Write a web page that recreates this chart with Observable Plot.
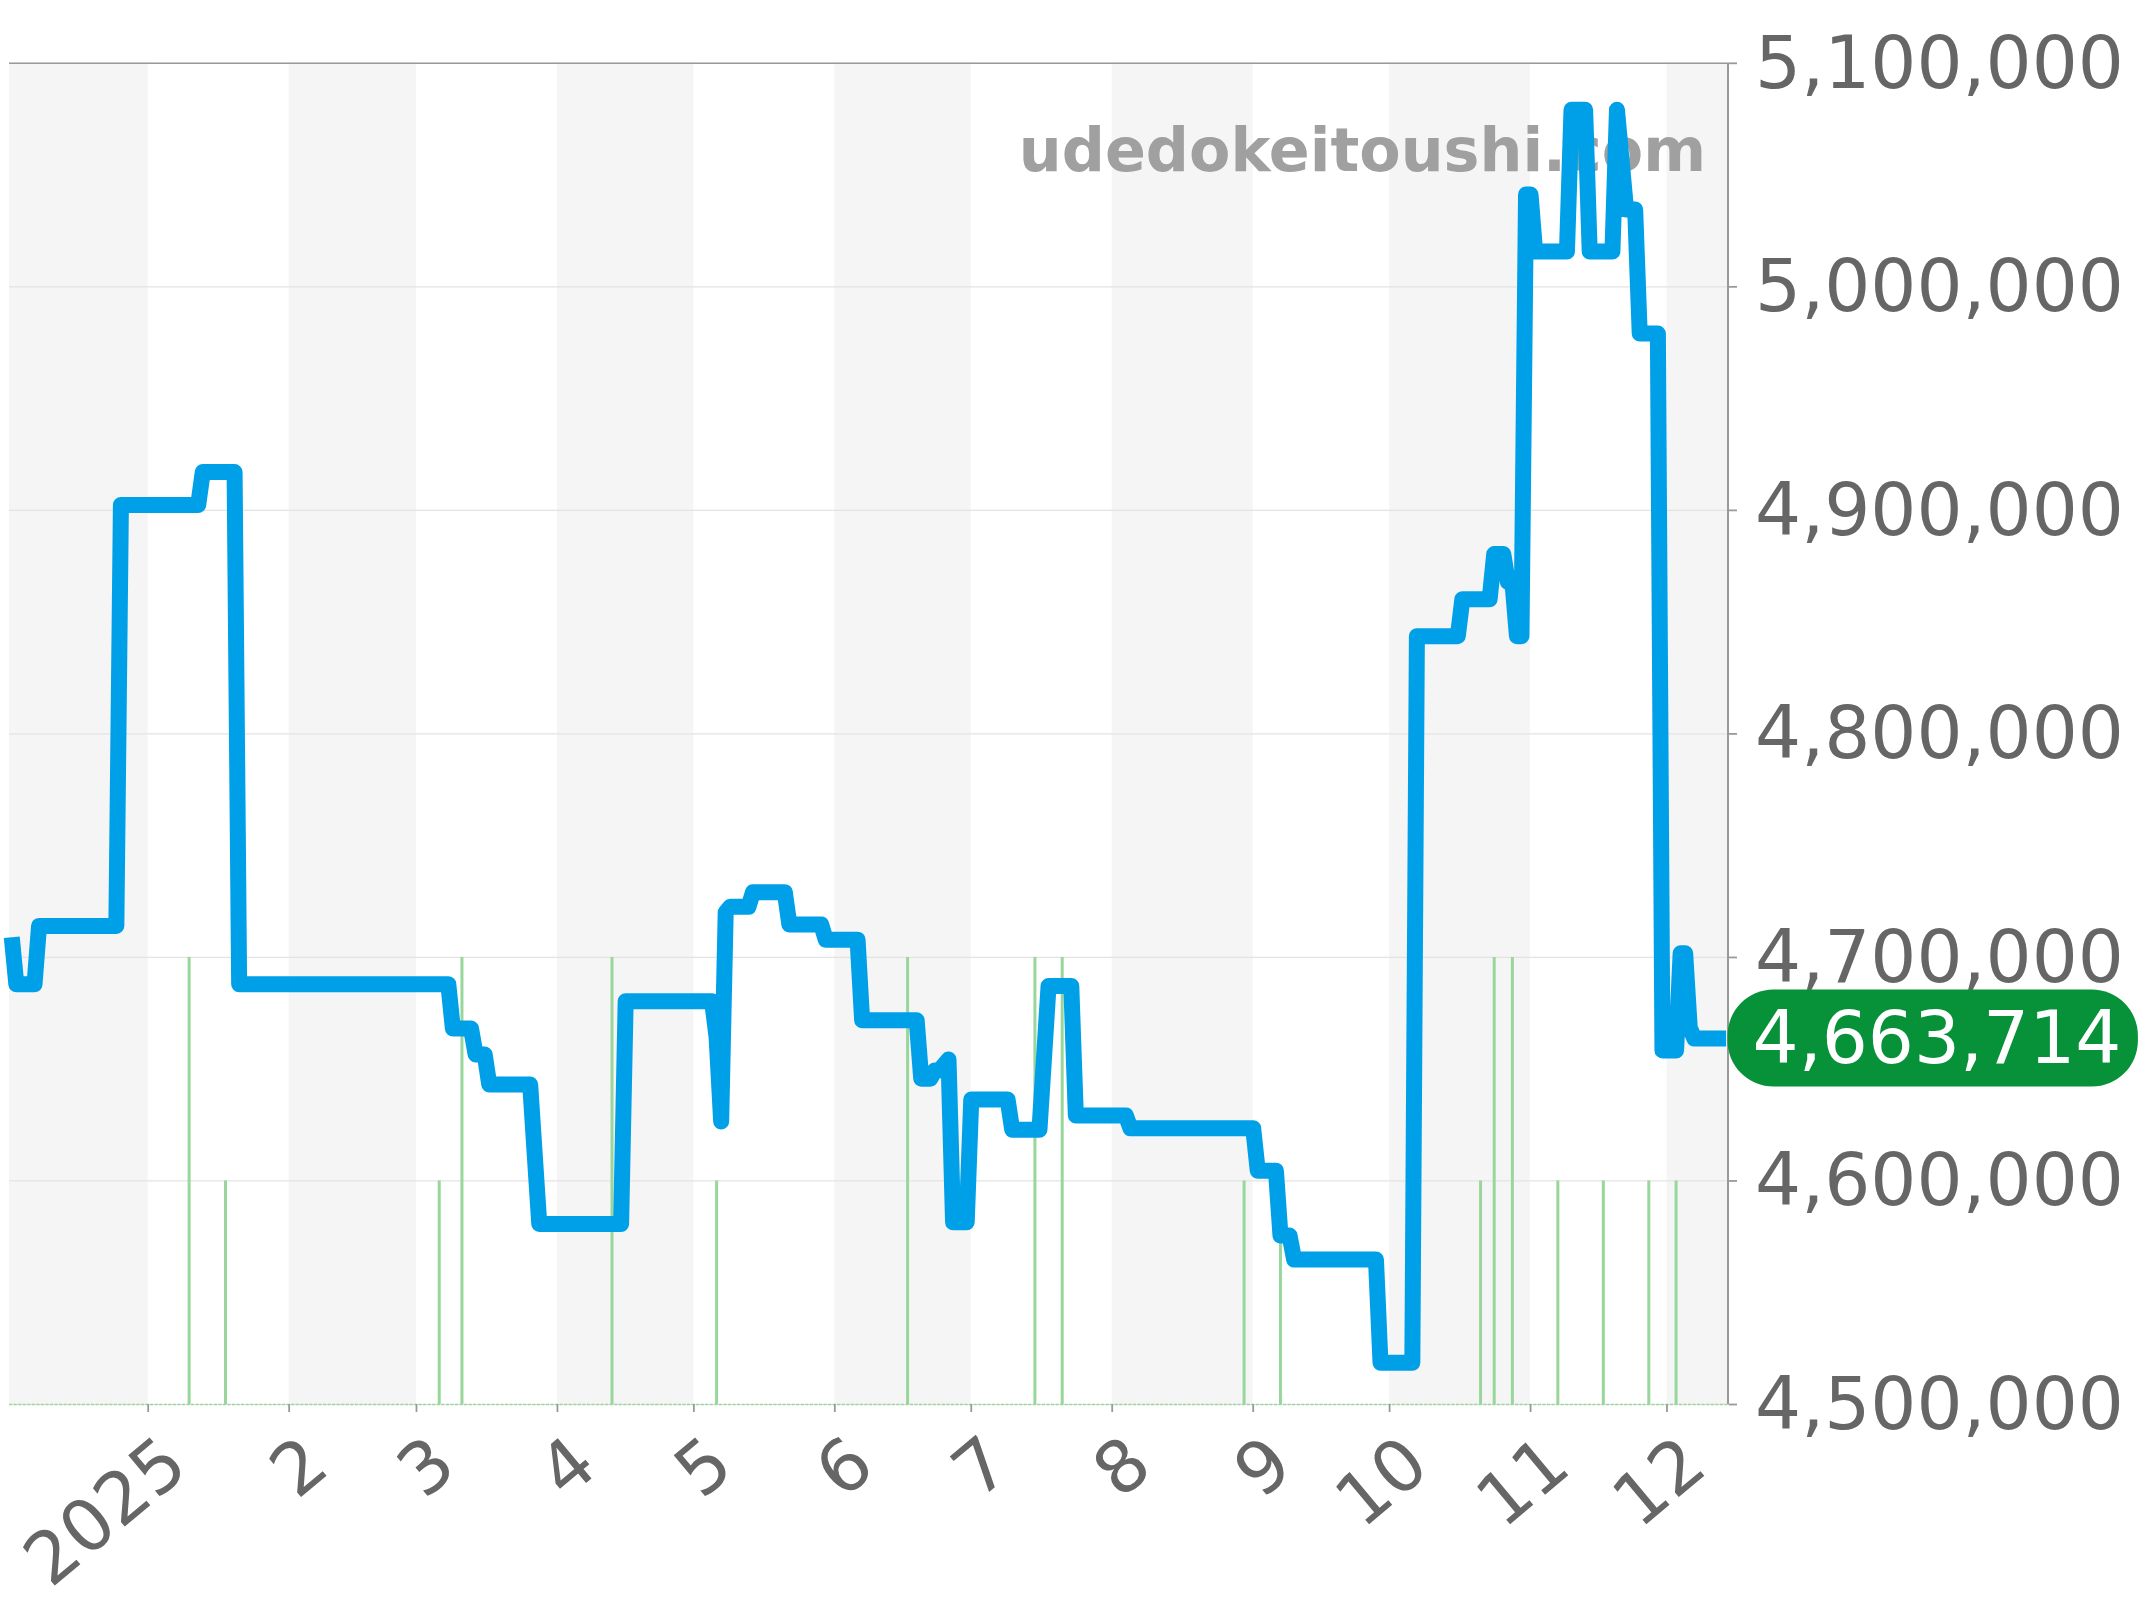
<!DOCTYPE html>
<html><head><meta charset="utf-8">
<script src="https://cdn.jsdelivr.net/npm/d3@7"></script>
<script src="https://cdn.jsdelivr.net/npm/@observablehq/plot@0.6"></script>
<style>html,body{margin:0;padding:0;background:#fff}svg{display:block}</style>
</head><body><div id="chart"></div>
<script>
const priceDates = ["2024-12-02","2024-12-03","2024-12-07","2024-12-08","2024-12-25","2024-12-26","2025-01-12","2025-01-13","2025-01-20","2025-01-21","2025-03-08","2025-03-09","2025-03-13","2025-03-14","2025-03-16","2025-03-17","2025-03-26","2025-03-28","2025-04-15","2025-04-16","2025-05-05","2025-05-06","2025-05-07","2025-05-08","2025-05-09","2025-05-13","2025-05-14","2025-05-21","2025-05-22","2025-05-29","2025-05-30","2025-06-06","2025-06-07","2025-06-19","2025-06-20","2025-06-22","2025-06-23","2025-06-24","2025-06-26","2025-06-27","2025-06-30","2025-07-01","2025-07-09","2025-07-10","2025-07-16","2025-07-18","2025-07-23","2025-07-24","2025-08-04","2025-08-05","2025-09-01","2025-09-02","2025-09-06","2025-09-07","2025-09-09","2025-09-10","2025-09-28","2025-09-29","2025-10-06","2025-10-07","2025-10-16","2025-10-17","2025-10-23","2025-10-24","2025-10-26","2025-10-27","2025-10-28","2025-10-29","2025-10-30","2025-10-31","2025-11-01","2025-11-02","2025-11-09","2025-11-10","2025-11-13","2025-11-14","2025-11-19","2025-11-20","2025-11-22","2025-11-24","2025-11-25","2025-11-29","2025-11-30","2025-12-03","2025-12-04","2025-12-05","2025-12-06","2025-12-07","2025-12-14"];
const priceValues = [4709000,4688000,4688000,4714100,4714100,4902450,4902450,4917130,4917130,4688000,4688000,4668200,4668200,4656600,4656600,4643150,4643150,4580750,4580750,4680450,4680450,4664180,4626620,4720200,4722650,4722650,4729200,4729200,4714700,4714700,4707960,4707960,4671880,4671880,4645760,4645760,4649430,4649430,4654330,4581550,4581550,4636410,4636410,4622950,4622950,4687170,4687170,4629260,4629260,4623560,4623560,4604600,4604600,4575560,4575560,4564850,4564850,4518670,4518670,4843740,4843740,4860250,4860250,4880440,4880440,4867960,4867960,4843740,4843740,5041290,5041290,5015780,5015780,5079200,5079200,5015780,5015780,5079200,5034560,5034560,4979090,4979090,4658420,4658420,4701850,4701850,4668650,4663714,4663714];
const tallDates = ["2025-01-10","2025-03-11","2025-04-13","2025-06-17","2025-07-15","2025-07-21","2025-10-24","2025-10-28"];
const shortDates = ["2025-01-18","2025-03-06","2025-05-06","2025-08-30","2025-09-07","2025-10-21","2025-11-07","2025-11-17","2025-11-27","2025-12-03"];
const tallTop = 4700000, shortTop = 4600000, floorValue = 4500000, ceilValue = 5100000;
const monthStarts = ["2025-01-01","2025-02-01","2025-03-01","2025-04-01","2025-05-01","2025-06-01","2025-07-01","2025-08-01","2025-09-01","2025-10-01","2025-11-01","2025-12-01"];
const monthLabels = ["2025","2","3","4","5","6","7","8","9","10","11","12"];
const bandStarts = ["2024-12-01T12:00","2025-02-01","2025-04-01","2025-06-01","2025-08-01","2025-10-01","2025-12-01"];
const bandEnds = ["2025-01-01","2025-03-01","2025-05-01","2025-07-01","2025-09-01","2025-11-01","2025-12-14T10:00"];
const yTicks = [4500000,4600000,4700000,4800000,4900000,5000000,5100000];
const lastValue = 4663714;
const watermark = "udedokeitoushi.com";

const D = s => new Date(s.length === 10 ? s + "T00:00" : s);
const line = priceDates.map((d,i)=>({date:D(d),price:priceValues[i]}));
const bands = bandStarts.map((d,i)=>({a:D(d),b:D(bandEnds[i])}));
const months = monthStarts.map((d,i)=>({date:D(d),label:monthLabels[i]}));
const domainEnd = D("2025-12-14T10:00");
const fmt = d3.format(",");

const chart = Plot.plot({
  width:2144, height:1600,
  marginTop:62.8, marginBottom:196, marginLeft:9, marginRight:416.5,
  style:{background:"#fff",fontFamily:"'DejaVu Sans'",overflow:"visible"},
  x:{type:"utc",domain:[D("2024-12-01T12:00"),domainEnd],axis:null},
  y:{domain:[floorValue,ceilValue],axis:null},
  marks:[
    Plot.rect(bands,{x1:"a",x2:"b",y1:floorValue,y2:ceilValue,fill:"#f5f5f5"}),
    Plot.ruleY(yTicks,{stroke:"#e3e3e3",strokeWidth:1.2}),
    Plot.ruleX(tallDates.map(D),{y1:floorValue,y2:tallTop,stroke:"#98d69b",strokeWidth:3}),
    Plot.ruleX(shortDates.map(D),{y1:floorValue,y2:shortTop,stroke:"#98d69b",strokeWidth:3}),
    Plot.ruleY([floorValue],{stroke:"#98d69b",strokeWidth:1.5,strokeDasharray:"3.2,1.35"}),
    Plot.ruleY([ceilValue],{stroke:"#999",strokeWidth:1.6}),
    Plot.ruleX([domainEnd],{stroke:"#999",strokeWidth:2}),
    Plot.text([watermark],{x:domainEnd,y:5060000,text:d=>d,textAnchor:"end",dx:-22,dy:-1.5,fontSize:60.3,fontWeight:"bold",fill:"#a0a0a0"}),
    Plot.line(line,{x:"date",y:"price",stroke:"#00a0e9",strokeWidth:16,strokeLinejoin:"round",strokeLinecap:"butt",curve:"linear"}),
    Plot.axisX(monthStarts.map(D),{anchor:"bottom",tickSize:8,tickFormat:()=>"",stroke:"#999",strokeWidth:1.8,label:null}),
    Plot.text(months,{x:"date",y:floorValue,text:"label",rotate:-40,textAnchor:"end",dx:28,dy:49,fontSize:72,fill:"#666"}),
    Plot.axisY(yTicks,{anchor:"right",tickSize:8.5,tickFormat:()=>"",stroke:"#999",strokeWidth:1.8,label:null}),
    Plot.text(yTicks,{x:domainEnd,y:d=>d,text:d=>fmt(d),textAnchor:"start",dx:27,dy:1.2,fontSize:72.5,fill:"#666"}),
    Plot.rect([lastValue],{x1:domainEnd,x2:D("2026-03-14T16:00"),y1:d=>d-21700,y2:d=>d+21700,rx:46,fill:"#079139"}),
    Plot.text([lastValue],{x:domainEnd,y:d=>d,text:d=>fmt(d),textAnchor:"start",dx:24.5,dy:1,fontSize:72.5,fill:"#fff"})
  ]
});
document.getElementById("chart").append(chart);
</script></body></html>
